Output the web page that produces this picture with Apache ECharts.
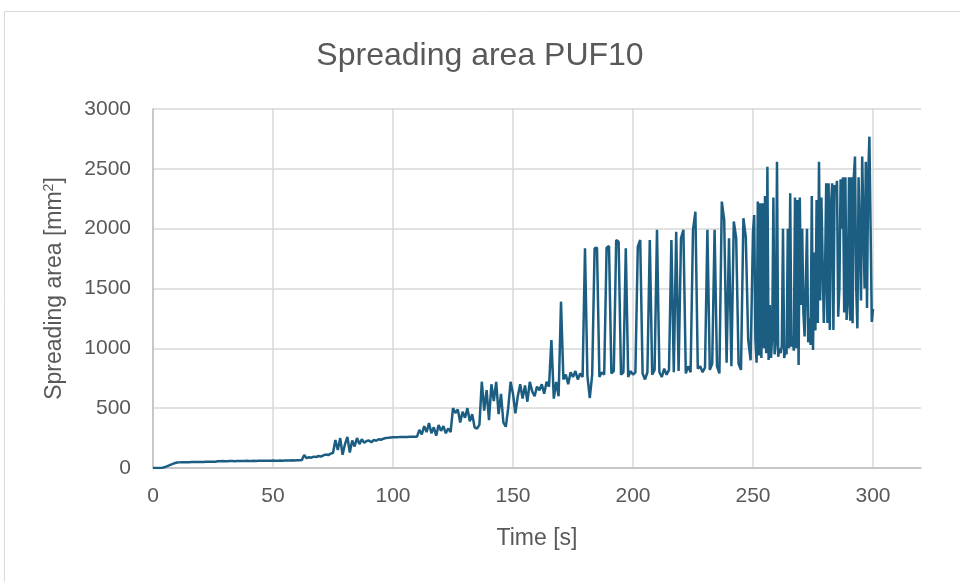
<!DOCTYPE html>
<html>
<head>
<meta charset="utf-8">
<script src="https://cdn.jsdelivr.net/npm/echarts@6/dist/echarts.min.js"></script>
<style>html,body{margin:0;padding:0;background:#fff;}#c{width:960px;height:582px;}</style>
</head>
<body>
<div id="c"></div>
<script>
// Sample times [s]
const times = [
0,1,2,3,4,5,6,7,8,9,10,11,12,13,14,15,16,17,18,19,20,21,22,23,24,25,26,27,28,29,
30,31,32,33,34,35,36,37,38,39,40,41,42,43,44,45,46,47,48,49,50,51,52,53,54,55,56,57,58,59,
60,61,62,63,64,65,66,67,68,69,70,71,72,73,74,75,76,77,78,79,80,81,82,83,84,85,86,87,88,89,
90,91,92,93,94,95,96,97,98,99,100,101,102,103,104,105,106,107,108,109,110,111,112,113,114,115,116,117,118,119,
120,121,122,123,124,125,126,127,128,129,130,131,132,133,134,135,136,137,138,139,140,141,142,143,144,145,146,147,148,149,
150,151,152,153,154,155,156,157,158,159,160,161,162,163,164,165,166,167,168,169,170,171,172,173,174,175,176,177,178,179,
180,181,182,183,184,185,186,187,188,189,190,191,192,193,194,195,196,197,198,199,200,201,202,203,204,205,206,207,208,209,
210,211,212,213,214,215,216,217,218,219,220,221,222,223,224,225,226,227,228,229,230,231,232,233,234,235,236,237,238,239,
240,241,242,243,244,245,246,247,248,249,
250,250.5,251,251.5,252,252.5,253,253.5,254,254.5,255,255.5,256,256.5,257,257.5,258,258.5,259,259.5,
260,260.5,261,261.5,262,262.5,263,263.5,264,264.5,265,265.5,266,266.5,267,267.5,268,268.5,269,269.5,
270,270.5,271,271.5,272,272.5,273,273.5,274,274.5,275,275.5,276,276.5,277,277.5,278,278.5,279,279.5,
280,280.5,281,281.5,282,282.5,283,283.5,284,284.5,285,285.5,286,286.5,287,287.5,288,288.5,289,289.5,
290,290.5,291,291.5,292,292.5,293,293.5,294,294.5,295,295.5,296,296.5,297,297.5,298,298.5,299,299.5,
300
];
// Spreading area [mm2]
const area = [
0,0,0,0,3,8,16,24,32,40,46,
47,48,48,49,49,50,50,50,51,51,51,52,52,52,53,53,
56,57,58,56,57,58,58,57,58,59,58,59,60,58,59,60,59,60,61,60,60,61,61,62,
60,61,62,61,62,63,62,64,63,65,64,66,
108,82,90,86,95,92,100,96,106,112,108,120,125,
234,150,250,110,200,260,130,230,180,250,200,240,210,
225,230,215,235,228,240,236,245,250,252,255,
257,258,258,259,259,260,260,261,261,262,262,
318,280,350,300,376,290,340,270,360,310,350,290,330,300,
500,460,490,380,470,420,500,390,450,340,330,360,
721,480,650,400,700,560,720,450,620,380,345,500,
720,620,457,600,700,580,690,554,720,640,600,680,
650,700,620,720,680,1070,580,720,600,1390,740,780,700,800,760,810,740,790,760,
1836,770,585,780,1836,1840,760,800,780,1840,1855,790,810,1905,1890,780,800,1836,760,810,
780,800,1850,1905,790,740,800,1905,780,820,
1990,800,760,830,780,820,1905,800,1975,810,
1920,1990,790,850,800,1990,2142,830,850,800,
840,1990,820,870,1990,850,790,2226,2073,880,
1920,850,2060,1920,870,820,2087,1930,1070,900,
1975,2114,1070,880,2226,940,2212,919,2212,1000,2273,960,2518,903,1362,919,1100,2260,950,1050,
2560,930,1000,960,1020,2000,919,980,950,2000,1000,2296,1014,1100,980,2260,1000,2240,861,2260,
1362,2000,1295,1100,1111,2000,1050,1250,1028,2273,986,1800,1150,2240,1212,2560,1400,2260,2260,1212,
1600,2379,1212,2379,1153,2200,2379,1153,2365,2300,2400,1264,1500,2413,2000,2430,1300,2430,1237,1400,
2430,1230,2430,1210,2430,2602,1500,1167,2430,2430,1400,2602,2616,1500,2560,1337,2450,2769,2000,1220,
1330
];
const xTicks = [0, 50, 100, 150, 200, 250, 300];
const yTicks = [0, 500, 1000, 1500, 2000, 2500, 3000];

const pts = times.map((t, i) => [t, area[i]]);
const FONT = 'Liberation Sans';
const chart = echarts.init(document.getElementById('c'), null, {renderer: 'canvas'});
chart.setOption({
  animation: false,
  backgroundColor: '#ffffff',
  graphic: [{
    type: 'rect', z: -10,
    shape: {x: 4.5, y: 11.5, width: 1000, height: 1000},
    style: {fill: '#ffffff', stroke: '#d9d9d9', lineWidth: 1}
  }],
  title: {
    text: 'Spreading area PUF10',
    left: 'center', top: 35,
    textStyle: {fontFamily: FONT, fontSize: 32, fontWeight: 'normal', color: '#595959'}
  },
  grid: {left: 153, right: 39, top: 109, bottom: 114, containLabel: false},
  xAxis: {
    type: 'value', min: 0, max: 320, interval: 50,
    name: 'Time [s]', nameLocation: 'middle', nameGap: 59,
    nameTextStyle: {fontFamily: FONT, fontSize: 23, color: '#595959'},
    axisLine: {show: true, lineStyle: {color: '#bfbfbf', width: 1.5}},
    axisTick: {show: false},
    axisLabel: {
      fontFamily: FONT, fontSize: 21, color: '#595959', margin: 18,
      formatter: v => xTicks.indexOf(v) >= 0 ? String(v) : ''
    },
    splitLine: {show: true, showMaxLine: false, lineStyle: {color: '#d9d9d9', width: 1.5}}
  },
  yAxis: {
    type: 'value', min: 0, max: 3000, interval: 500,
    name: 'Spreading area [mm{sup|2}]', nameLocation: 'middle', nameGap: 86,
    nameTextStyle: {
      fontFamily: FONT, fontSize: 23, color: '#595959',
      rich: {sup: {fontFamily: FONT, fontSize: 14, color: '#595959', verticalAlign: 'top', padding: [0, 0, 11, 0]}}
    },
    axisLine: {show: true, lineStyle: {color: '#bfbfbf', width: 1.5}},
    axisTick: {show: false},
    axisLabel: {
      fontFamily: FONT, fontSize: 21, color: '#595959', margin: 22,
      formatter: v => yTicks.indexOf(v) >= 0 ? String(v) : ''
    },
    splitLine: {show: true, lineStyle: {color: '#d9d9d9', width: 1.5}}
  },
  series: [{
    type: 'line', data: pts, showSymbol: false, symbol: 'none',
    lineStyle: {color: '#1b5e82', width: 2.5},
    itemStyle: {color: '#1b5e82'}
  }]
});
</script>
</body>
</html>
